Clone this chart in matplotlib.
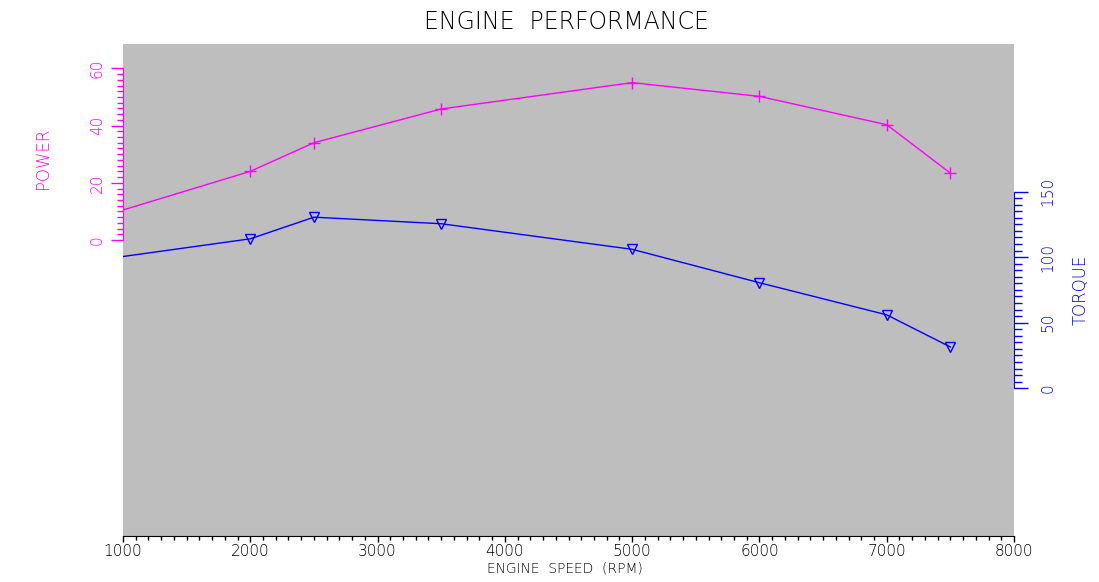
import matplotlib.pyplot as plt
from matplotlib.ticker import MultipleLocator, FixedLocator

# engine speed (rpm)
rpm = [1000, 2000, 2500, 3500, 5000, 6000, 7000, 7500]
# power and torque
power = [10.5, 24.0, 34.0, 45.8, 55.0, 50.2, 40.3, 23.4]
torque = [100.5, 114.0, 130.5, 125.5, 106.0, 80.5, 56.0, 31.5]

power_ticks = [0, 20, 40, 60]
torque_ticks = [0, 50, 100, 150]

MAGENTA = '#FF00FF'
BLUE = '#0000FF'
GRAY = '#BEBEBE'

plt.rcParams['font.family'] = ['DejaVu Sans']

fig = plt.figure(figsize=(10.99, 5.82), dpi=100)
ax = fig.add_axes([123 / 1099, 46 / 582, 891 / 1099, 492 / 582])
ax.set_facecolor(GRAY)
ax2 = ax.twinx()
ax2.patch.set_visible(False)

# first point sits on the left edge and shows no marker in the reference
marks = list(range(1, len(rpm)))

# power on left axis
ax.plot(rpm, power, color=MAGENTA, lw=1, marker='+', ms=8, mew=1, markevery=marks)
ax.set_xlim(1000, 8000)
ax.set_ylim(-103.4, 68.5)
ax.spines['left'].set_bounds(power_ticks[0], power_ticks[-1])
ax.spines['left'].set_color(MAGENTA)
ax.spines['top'].set_visible(False)
ax.spines['right'].set_visible(False)
ax.spines['bottom'].set_color('black')
ax.set_yticks(power_ticks)
ax.yaxis.set_minor_locator(FixedLocator([v for v in range(0, 61, 2) if v % 20]))
ax.tick_params(axis='y', which='major', colors=MAGENTA, length=9, width=1, pad=4,
               labelsize=11, labelrotation=90)
ax.tick_params(axis='y', which='minor', colors=MAGENTA, length=4.5, width=1)
for lbl in ax.get_yticklabels():
    lbl.set_va('center')
    lbl.set_fontweight('light')

ax.xaxis.set_major_locator(MultipleLocator(1000))
ax.xaxis.set_minor_locator(MultipleLocator(100))
ax.tick_params(axis='x', which='major', length=4, width=1, pad=2, labelsize=11)
ax.tick_params(axis='x', which='minor', length=3, width=1)
for lbl in ax.get_xticklabels():
    lbl.set_fontweight('light')

# torque on right axis
ax2.plot(rpm, torque, color=BLUE, lw=1, marker='v', ms=7, mew=1, mfc='none',
         markevery=marks)
ax2.set_ylim(-112.7, 262.6)
ax2.spines['right'].set_bounds(torque_ticks[0], torque_ticks[-1])
ax2.spines['right'].set_color(BLUE)
for s in ['left', 'top', 'bottom']:
    ax2.spines[s].set_visible(False)
ax2.set_yticks(torque_ticks)
ax2.yaxis.set_minor_locator(FixedLocator([v for v in range(0, 151, 5) if v % 50]))
ax2.tick_params(axis='y', which='major', colors=BLUE, length=10, width=1, pad=9,
                labelsize=11, labelrotation=90)
ax2.tick_params(axis='y', which='minor', colors=BLUE, length=6, width=1)
for lbl in ax2.get_yticklabels():
    lbl.set_va('center')
    lbl.set_fontweight('light')

# titles and axis labels
fig.text(566 / 1099, 1 - 22 / 582, 'ENGINE  PERFORMANCE', ha='center', va='center',
         fontsize=17, fontweight='light')
fig.text(565 / 1099, 1 - 569 / 582, 'ENGINE  SPEED  (RPM)', ha='center', va='center',
         fontsize=10, fontweight='light')
fig.text(43 / 1099, 1 - 158 / 582, 'POWER', ha='center', va='center', rotation=90,
         color=MAGENTA, fontsize=12, fontweight='light')
fig.text(1081 / 1099, 1 - 290 / 582, 'TORQUE', ha='center', va='center', rotation=90,
         color=BLUE, fontsize=12, fontweight='light')

fig.savefig('out.png', dpi=100)
